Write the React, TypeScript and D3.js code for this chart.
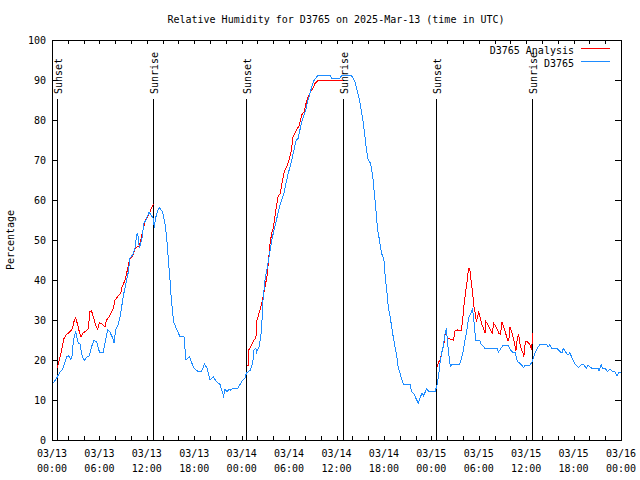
import React from "react";
import * as d3 from "d3";

const TITLE = "Relative Humidity for D3765 on 2025-Mar-13 (time in UTC)";
const Y_LABEL = "Percentage";
const START = Date.UTC(2025, 2, 13, 0, 0);
const END = Date.UTC(2025, 2, 16, 0, 0);
const Y_TICKS = [0, 10, 20, 30, 40, 50, 60, 70, 80, 90, 100];
const SERIES_NAMES = ["D3765 Analysis", "D3765"];

// hours after 03/13 00:00 UTC
const sunEvents: [number, string][] = [
  [0.65, "Sunset"], [12.78, "Sunrise"], [24.6, "Sunset"],
  [36.8, "Sunrise"], [48.6, "Sunset"], [60.75, "Sunrise"],
];

// D3765 observations [hour, %]
const station: [number, number][] = [
  [0.0, 13.8], [0.6, 15.5], [1.0, 17], [1.3, 17.5], [1.65, 19.6], [1.86, 20.8], [2.1, 21], [2.37, 20.2],
  [2.57, 21.2], [2.7, 25], [3.0, 27], [3.33, 24.2], [3.54, 24], [3.84, 20.8], [4.1, 20], [4.47, 20.8],
  [4.7, 21], [5.0, 23.3], [5.3, 24.8], [5.65, 24.6], [6.0, 22], [6.5, 22], [6.7, 24.2], [7.05, 27.5],
  [7.3, 27.1], [7.7, 25.4], [7.85, 24.2], [8.05, 27.5], [8.4, 29], [8.7, 31.7], [9.0, 35.8], [9.36, 39.2],
  [9.66, 42], [9.87, 45.5], [10.2, 46.25], [10.5, 48], [10.7, 51.2], [10.85, 51.6], [11.05, 48], [11.35, 50],
  [11.64, 54.2], [11.9, 55], [12.27, 57], [12.55, 56.2], [12.8, 55.5], [12.95, 53], [13.1, 55.5], [13.45, 57.7],
  [13.6, 58], [14.0, 57], [14.3, 54], [14.5, 51], [14.7, 45.8], [14.93, 40], [15.1, 35], [15.4, 29.5],
  [15.7, 28], [16.2, 25.8], [16.7, 25.8], [16.96, 20], [17.4, 20.8], [17.6, 19.6], [18.0, 17.9], [18.5, 17.1],
  [18.9, 17.1], [19.3, 19], [19.6, 18], [20.0, 15], [20.4, 15.8], [20.8, 14.6], [21.26, 13.9], [21.7, 11],
  [21.9, 12.7], [22.15, 12.1], [22.4, 12.7], [22.6, 12.5], [22.9, 12.9], [23.5, 12.9], [24.0, 14.6], [24.4, 15.4],
  [24.6, 16.7], [25.1, 17.5], [25.4, 19.2], [25.56, 22.5], [25.8, 23], [25.9, 22], [26.2, 23.3], [26.5, 27.1],
  [26.7, 35], [26.95, 40], [27.25, 43.3], [27.6, 47.5], [27.9, 50.8], [28.2, 53.3], [28.6, 56.7], [28.9, 59.2],
  [29.3, 61.25], [29.6, 64.2], [29.9, 66.7], [30.24, 69.2], [30.53, 71.7], [30.9, 75], [31.15, 75.4], [31.5, 78.75],
  [31.8, 80.8], [32.1, 82.5], [32.4, 85], [32.7, 87.1], [33.07, 89.6], [33.6, 91.1], [35.2, 91.1], [35.4, 90.3],
  [36.4, 90.3], [36.65, 91.1], [37.9, 91.1], [38.34, 89.6], [38.55, 87.9], [38.9, 85], [39.2, 81.7], [39.4, 79.2],
  [39.6, 75.8], [39.8, 72.5], [40.0, 70], [40.3, 69.2], [40.6, 65.8], [40.75, 62.5], [40.96, 58.3], [41.2, 52.5],
  [41.4, 50.4], [41.7, 46.7], [42.0, 45], [42.2, 40], [42.35, 37.5], [42.56, 33.3], [42.85, 30], [43.1, 26.7],
  [43.4, 23.3], [43.6, 21.25], [43.8, 18.3], [44.1, 16.25], [44.45, 14], [45.3, 14], [45.5, 12.1], [45.75, 11.7],
  [46.1, 10.2], [46.35, 9.2], [46.8, 11.7], [47.0, 11.1], [47.4, 12.7], [47.7, 12.1], [48.46, 12.1], [48.67, 13.3],
  [48.9, 15.8], [49.1, 19.2], [49.3, 21.7], [49.5, 23.3], [49.7, 26.25], [49.9, 27.9], [50.15, 22.5], [50.4, 18.3],
  [50.6, 18.9], [51.6, 19], [51.8, 20.4], [52.0, 22], [52.26, 25], [52.5, 27.5], [52.7, 30.4], [53.0, 31.7],
  [53.2, 32.9], [53.4, 29.6], [53.6, 25], [54.1, 25], [54.3, 24], [54.8, 22.9], [56.3, 22.9], [56.5, 22],
  [56.8, 22.9], [57.1, 23.75], [57.7, 23.75], [58.0, 22.5], [58.4, 21.8], [58.6, 21.8], [58.9, 19.6], [59.2, 19.2],
  [59.7, 18.1], [59.9, 18.75], [60.5, 18.75], [60.8, 19.8], [61.1, 21.7], [61.4, 22.9], [61.75, 23.9], [62.6, 23.9],
  [62.8, 23.3], [63.0, 23.9], [63.2, 22.9], [63.9, 22.9], [64.4, 21.9], [64.55, 21.9], [64.7, 22.9], [65.0, 22],
  [65.3, 21.25], [65.5, 21.8], [65.75, 20.8], [66.0, 19.6], [66.2, 18.9], [66.6, 18.1], [66.95, 18.75], [67.25, 18.9],
  [67.6, 17.9], [67.85, 18.75], [68.3, 17.9], [69.1, 17.9], [69.2, 17.3], [69.5, 18.75], [69.7, 17.9], [70.0, 17.9],
  [70.3, 17.1], [70.6, 17.7], [70.9, 17.1], [71.2, 17.1], [71.5, 16], [71.7, 16.8], [72.0, 16.8],
];

// D3765 Analysis, three night segments [hour, %]
const analysisNight1: [number, number][] = [
  [0.67, 17.9], [0.93, 20], [1.22, 22.5], [1.52, 25.4], [1.77, 26.25], [2.28, 27.1], [2.6, 27.9], [2.78, 29.6],
  [3.0, 30.6], [3.25, 28.75], [3.45, 27.1], [3.67, 25.7], [3.9, 26.7], [4.2, 27.1], [4.6, 27.9], [4.8, 32.1],
  [5.0, 32.3], [5.23, 30.8], [5.53, 28.75], [5.78, 27.7], [6.0, 29.3], [6.3, 29], [6.7, 28.3], [6.9, 30],
  [7.25, 30.8], [7.55, 32.1], [7.75, 32.9], [7.97, 35], [8.3, 35.8], [8.7, 36.7], [8.8, 37.9], [9.24, 40],
  [9.45, 41.7], [9.66, 43.75], [9.87, 45.4], [10.2, 46], [10.5, 47.9], [10.8, 48.3], [11.0, 48.3], [11.2, 49.6],
  [11.55, 52.9], [11.85, 55], [12.2, 56.25], [12.5, 57.5], [12.74, 58.75], [12.95, 59],
];
const analysisNight2: [number, number][] = [
  [24.63, 18.75], [24.85, 18.75], [24.9, 22.5], [25.27, 23.75], [25.56, 25], [25.8, 25.4], [25.9, 29.6], [26.2, 31.7],
  [26.5, 33.75], [26.7, 35.8], [26.95, 38.3], [27.2, 40.8], [27.4, 45], [27.6, 49.2], [27.8, 51.7], [28.0, 52.9],
  [28.2, 55.8], [28.4, 58.3], [28.6, 60.8], [28.9, 61.7], [29.1, 64.2], [29.4, 67.1], [29.7, 68.3], [30.0, 70],
  [30.3, 72.5], [30.5, 75.8], [30.96, 77.5], [31.3, 78.75], [31.6, 81.25], [31.9, 82.1], [32.2, 84.6], [32.6, 86.7],
  [32.9, 87.5], [33.3, 89.2], [33.7, 90], [36.4, 90], [36.85, 90],
];
const analysisNight3: [number, number][] = [
  [48.76, 18.3], [48.9, 19.6], [49.05, 19.6], [49.2, 20.8], [49.4, 22.5], [49.6, 24.2], [49.8, 27.5], [49.9, 26.25],
  [50.15, 25.4], [50.5, 25.2], [50.8, 25], [51.0, 27.3], [51.3, 27.5], [51.75, 27.3], [51.96, 29.6], [52.1, 33.3],
  [52.35, 37.1], [52.55, 40], [52.7, 42.9], [52.85, 42.9], [53.0, 40.4], [53.2, 37.1], [53.4, 33.3], [53.5, 32.5],
  [53.7, 29.6], [53.85, 30.8], [54.0, 32.1], [54.2, 30.4], [54.4, 28.75], [54.6, 27.9], [54.8, 26.7], [54.9, 29.6],
  [55.2, 28.75], [55.5, 27.5], [55.7, 26.7], [55.9, 29.2], [56.25, 28], [56.55, 26.7], [56.75, 26.5], [56.94, 29.6],
  [57.2, 28], [57.4, 26.7], [57.65, 25], [57.8, 24.8], [57.95, 28.3], [58.15, 27.1], [58.4, 25.4], [58.6, 23.3],
  [58.7, 22.3], [58.9, 25.8], [59.05, 26.25], [59.2, 24.2], [59.4, 22.7], [59.6, 21.7], [59.7, 20.7], [59.9, 24.6],
  [60.15, 24.6], [60.5, 23.75], [60.72, 22.5], [60.78, 26.7], [60.9, 26.7],
];

const FONT = "'DejaVu Sans Mono', monospace";
const RED = "#ff0000";
const BLUE = "#1e8cff";

export default function App() {
  const W = 640, H = 480;
  const L = 52, R = 621, T = 40, B = 440;
  const x = d3.scaleUtc().domain([new Date(START), new Date(END)]).range([L, R]);
  const y = d3.scaleLinear().domain([0, 100]).range([B, T]);
  const toDate = (h: number) => new Date(START + h * 3600e3);
  const line = d3.line<[number, number]>().x(d => x(toDate(d[0]))).y(d => y(d[1]));

  const minorTicks = d3.utcHour.every(2)!.range(new Date(START), new Date(END + 1));
  const majorTicks = d3.utcHour.every(6)!.range(new Date(START), new Date(END + 1));
  const fDate = d3.utcFormat("%m/%d");
  const fTime = d3.utcFormat("%H:%M");

  return (
    <svg width={W} height={H} style={{ position: "absolute", left: 0, top: 0, background: "#fff" }}
      fontFamily={FONT} fontSize={10}>
      <rect x={0} y={0} width={W} height={H} fill="#fff" />
      <text x={336} y={23} textAnchor="middle">{TITLE}</text>
      {/* y ticks */}
      {Y_TICKS.map(v => (
        <g key={v}>
          <line x1={L} x2={L + 6} y1={y(v) + 0.5} y2={y(v) + 0.5} stroke="#000" shapeRendering="crispEdges" />
          <line x1={R - 6} x2={R} y1={y(v) + 0.5} y2={y(v) + 0.5} stroke="#000" shapeRendering="crispEdges" />
          <text x={46} y={y(v) + 4} textAnchor="end">{v}</text>
        </g>
      ))}
      {/* x ticks */}
      {minorTicks.map(t => (
        <g key={+t}>
          <line x1={Math.round(x(t)) + 0.5} x2={Math.round(x(t)) + 0.5} y1={B} y2={B - 4} stroke="#000" shapeRendering="crispEdges" />
          <line x1={Math.round(x(t)) + 0.5} x2={Math.round(x(t)) + 0.5} y1={T} y2={T + 4} stroke="#000" shapeRendering="crispEdges" />
        </g>
      ))}
      {majorTicks.map(t => (
        <g key={"m" + +t}>
          <text x={x(t)} y={457} textAnchor="middle">{fDate(t)}</text>
          <text x={x(t)} y={472} textAnchor="middle">{fTime(t)}</text>
        </g>
      ))}
      <text transform={`translate(14,240) rotate(-90)`} textAnchor="middle">{Y_LABEL}</text>
      {/* sun events */}
      {sunEvents.map(([h, label], i) => {
        const px = Math.round(x(toDate(h))) + 0.5;
        return (
          <g key={i}>
            <line x1={px} x2={px} y1={99} y2={B} stroke="#000" shapeRendering="crispEdges" />
            <text transform={`translate(${px + 4.5},94) rotate(-90)`} textAnchor="start">{label}</text>
          </g>
        );
      })}
      {/* data */}
      {[analysisNight1, analysisNight2, analysisNight3].map((seg, i) => (
        <path key={i} d={line(seg)!} fill="none" stroke={RED} strokeWidth={1} shapeRendering="crispEdges" />
      ))}
      <path d={line(station)!} fill="none" stroke={BLUE} strokeWidth={1} shapeRendering="crispEdges" />
      {/* legend */}
      <text x={574} y={54} textAnchor="end">{SERIES_NAMES[0]}</text>
      <line x1={581} x2={610} y1={48.5} y2={48.5} stroke={RED} shapeRendering="crispEdges" />
      <text x={574} y={67} textAnchor="end">{SERIES_NAMES[1]}</text>
      <line x1={581} x2={610} y1={61.5} y2={61.5} stroke={BLUE} shapeRendering="crispEdges" />
      {/* border */}
      <rect x={L + 0.5} y={T + 0.5} width={R - L} height={B - T} fill="none" stroke="#000" shapeRendering="crispEdges" />
    </svg>
  );
}
